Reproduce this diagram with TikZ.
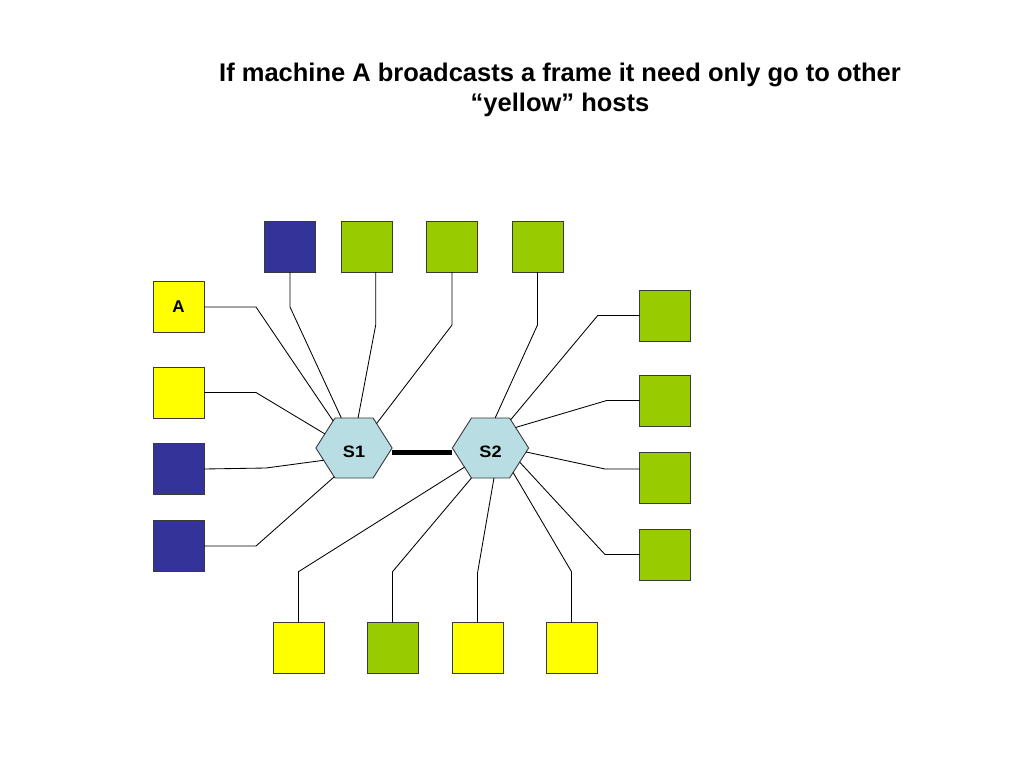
\documentclass[tikz,border=0pt]{standalone}
\usepackage{fontspec}
\setmainfont{Liberation Sans}
\usetikzlibrary{shapes.geometric}
\definecolor{hblue}{HTML}{333399}
\definecolor{hgreen}{HTML}{99CC00}
\definecolor{hyellow}{HTML}{FFFF00}
\definecolor{hexc}{HTML}{B8DDE3}
\definecolor{edgec}{HTML}{3A3A3A}
\begin{document}
\begin{tikzpicture}[x=1pt,y=-1pt,
  host/.style={draw=edgec, line width=0.9pt, minimum size=51pt, inner sep=0pt, outer sep=0pt},
  bluehost/.style={host, fill=hblue},
  greenhost/.style={host, fill=hgreen},
  yellowhost/.style={host, fill=hyellow},
  lbl/.style={font=\bfseries\fontsize{17}{17}\selectfont},
  sw/.style={regular polygon, regular polygon sides=6, minimum size=69.3pt,
    xscale=1.1, transform shape, fill=hexc, draw=edgec, line width=0.9pt,
    inner sep=0pt, outer sep=0pt, font=\bfseries\fontsize{16.5}{16.5}\selectfont,
    text height=18pt, text depth=0pt},
  wire/.style={line width=0.85pt, black},
  trunk/.style={line width=4.5pt, black},
  title/.style={font=\bfseries\fontsize{25.5}{29.5}\selectfont, align=center, inner sep=0pt}]
\useasboundingbox (0,0) rectangle (1024,768);
\fill[white] (0,0) rectangle (1024,768);

\node[title, anchor=north] (title) at (560,63) {If machine A broadcasts a frame it need only go to other\\``yellow'' hosts};

% left column
\node[yellowhost, lbl] (A) at (178.5,307) {A};
\node[yellowhost] (Y2) at (178.5,392.5) {};
\node[bluehost] (L3) at (178.5,469) {};
\node[bluehost] (L4) at (178.5,546) {};
% top row
\node[bluehost] (T1) at (290,246.5) {};
\node[greenhost] (T2) at (366.5,246.5) {};
\node[greenhost] (T3) at (452,246.5) {};
\node[greenhost] (T4) at (537.5,246.5) {};
% right column
\node[greenhost] (R1) at (665,315.5) {};
\node[greenhost] (R2) at (665,400.5) {};
\node[greenhost] (R3) at (665,477.5) {};
\node[greenhost] (R4) at (665,554.5) {};
% bottom row
\node[yellowhost] (D1) at (298.5,648) {};
\node[greenhost] (D2) at (392.5,648) {};
\node[yellowhost] (D3) at (477.5,648) {};
\node[yellowhost] (D4) at (571.5,648) {};

% switches
\node[sw] (S1) at (354,448) {S1};
\node[sw] (S2) at (490.5,448) {S2};

% trunk
\draw[trunk] ([yshift=-4.5pt]S1.east) -- ([yshift=-4.5pt]S1.east -| S2.west);

% S1 wires
\draw[wire] (A.east) -- (256,307) -- (S1.125);
\draw[wire] (Y2.east) -- (256,392.5) -- (S1.152);
\draw[wire] (L3.east) -- (266,468) -- (S1.204);
\draw[wire] (L4.east) -- (256,546) -- (S1.238);
\draw[wire] (T1.south) -- (290,307) -- (S1.111);
\draw[wire] (375.7,325 |- T2.south) -- (375.7,325) -- (S1.83);
\draw[wire] (T3.south) -- (452,325) -- (S1.50);

% S2 wires
\draw[wire] (T4.south) -- (537.5,325) -- (S2.82);
\draw[wire] (R1.west) -- (597.7,315.5) -- (S2.57);
\draw[wire] (R2.west) -- (606.7,400.5) -- (S2.42);
\draw[wire] (R3.west |- 605,469) -- (605,469) -- (S2.353);
\draw[wire] (R4.west) -- (605,554.5) -- (S2.332);
\draw[wire] (D1.north) -- (298.5,571.7) -- (S2.219);
\draw[wire] (D2.north) -- (392.5,571.7) -- (S2.240);
\draw[wire] (D3.north) -- (477.5,573) -- (S2.276);
\draw[wire] (D4.north) -- (571.5,571.7) -- (S2.310);
\end{tikzpicture}
\end{document}
